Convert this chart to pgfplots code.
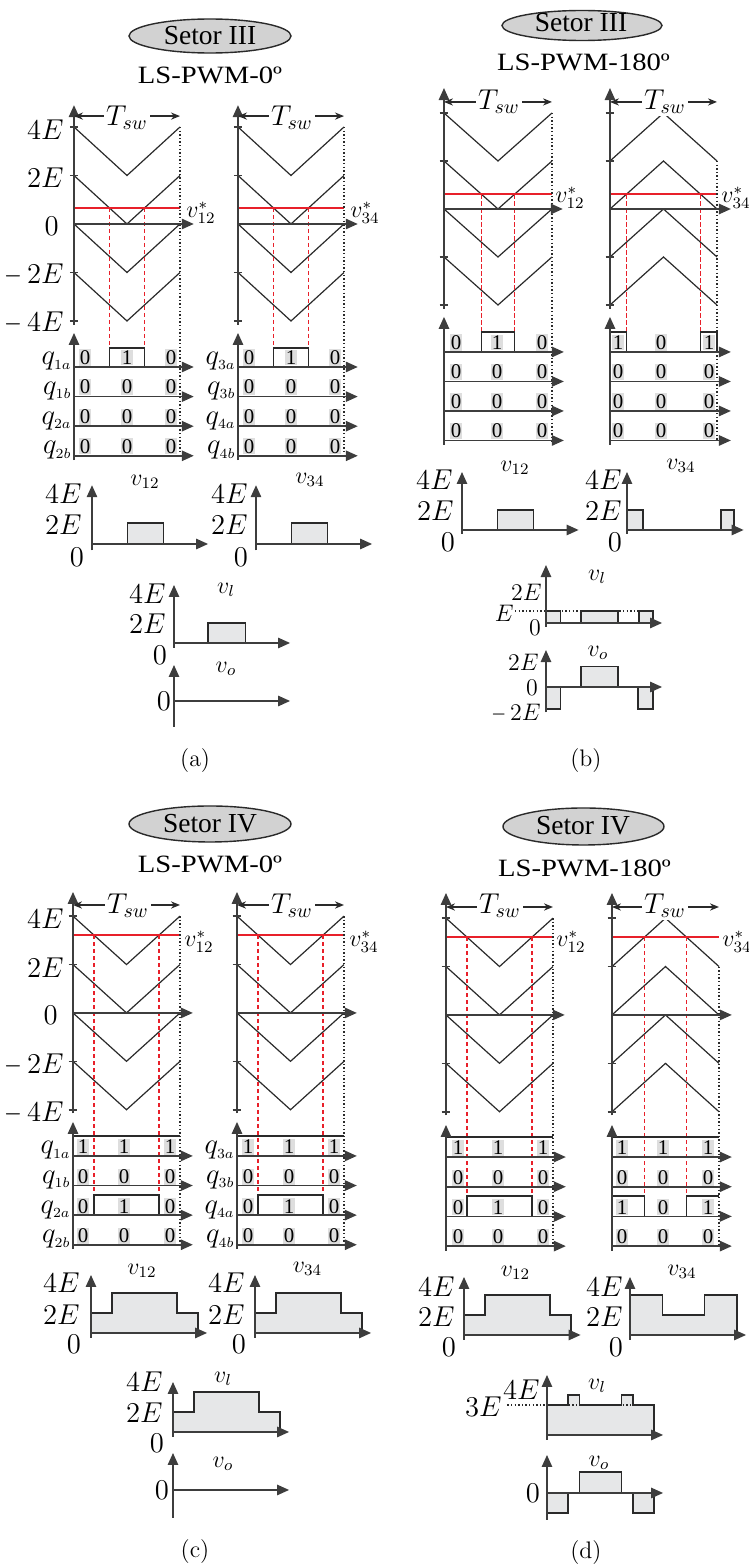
\documentclass[border=0pt]{standalone}
\usepackage[no-math]{fontspec}
\setmainfont{Liberation Serif}
\usepackage{graphicx}
\usepackage{pgfplots}
\pgfplotsset{compat=1.18}
\usetikzlibrary{arrows.meta}
\definecolor{ln}{HTML}{2A2A2A}
\definecolor{ax}{HTML}{3D3D3D}
\definecolor{rd}{HTML}{E8202A}
\definecolor{fl}{HTML}{E6E7E8}
\definecolor{hl}{HTML}{DEDEDE}
\definecolor{el}{HTML}{D2D2D2}
\newcommand\fT{\fontsize{13.5}{15}\selectfont}
\newcommand\fTs{\fontsize{12.5}{14}\selectfont}
\newcommand\fQ{\fontsize{12}{14}\selectfont}
\newcommand\fQQ{\fontsize{14}{15}\selectfont}
\newcommand\fD{\fontsize{10.5}{12}\selectfont}
\newcommand\fS{\fontsize{13.8}{16}\selectfont}
\newcommand\fL{\fontsize{12.5}{14}\selectfont}
\newcommand\fW{\fontsize{14}{16}\selectfont}
\newcommand\mi{\scalebox{0.8}[1]{$-$}\,}
\newcommand\qq[1]{$q_{\scriptscriptstyle #1}$}
\pgfplotsset{wf/.style={hide axis,clip=false,anchor=south west,xmin=0,enlargelimits=false,no markers}}
\tikzset{
 car/.style={draw=ln,line width=0.6bp},
 axl/.style={draw=ax,line width=0.8bp,-{Triangle[length=6bp,width=5.2bp]}},
 axn/.style={draw=ax,line width=0.8bp},
 tsw/.style={draw=ln,line width=0.6bp,{Stealth[length=4.5bp,width=3.6bp]}-{Stealth[length=4.5bp,width=3.6bp]}},
 rdash/.style={draw=rd,line width=0.65bp,dash pattern=on 2.2bp off 1.3bp},
 bdot/.style={draw=ln,line width=0.6bp,dash pattern=on 0.7bp off 1.1bp},
 refl/.style={draw=rd,line width=0.7bp},
 sig/.style={draw=ln,line width=0.75bp},
 stp/.style={draw=ln,line width=0.8bp,fill=fl},
 tk/.style={anchor=east,inner sep=0pt,font=\fT},
 tks/.style={anchor=east,inner sep=0pt,font=\fTs},
 tc/.style={inner sep=0pt,font=\fT},
 tcs/.style={inner sep=0pt,font=\fTs},
 ql/.style={anchor=base east,inner sep=0pt,font=\fQQ},
 vl/.style={inner sep=0pt,font=\fQ},
 vs/.style={anchor=base west,inner sep=0pt,font=\fQ},
 dgs/.style={fill=hl,inner xsep=0.3bp,inner ysep=0.5bp,font=\fD},
 tw/.style={fill=white,inner sep=1bp,font=\fW},
}
% position of an axis corner from reference pixel coordinates (1px = 0.5bp, y downwards)
\newcommand\AT[2]{at={({#1*0.5bp},{-#2*0.5bp})}}
\newcommand\dg[3]{\node[dgs] at (#1,#2) {#3};}
\newcommand\drow[7]{\dg{#1}{#4}{#5}\dg{#2}{#4}{#6}\dg{#3}{#4}{#7}}
\begin{document}
\begin{tikzpicture}
% ================= PANEL (a) =================
\begin{axis}[wf,x=53bp,y=12.125bp,xmax=1.14,ymin=-4.2,ymax=4.95,\AT{74}{325.85}]
 \addplot[car] coordinates {(0,4)(0.5,2)(1,4)};
 \addplot[car] coordinates {(0,2)(0.5,0)(1,2)};
 \addplot[car] coordinates {(0,0)(0.5,-2)(1,0)};
 \addplot[car] coordinates {(0,-2)(0.5,-4)(1,-2)};
 \addplot[refl] coordinates {(0,0.66)(1,0.66)};
 \addplot[rdash] coordinates {(0.335,0.66)(0.335,-5.1)};
 \addplot[rdash] coordinates {(0.665,0.66)(0.665,-5.1)};
 \addplot[bdot] coordinates {(1,4)(1,-9.6)};
 \draw[axl] (0,-4.15) -- (0,4.9);
 \draw[axl] (0,0) -- (1.13,0);
 \draw[axn] (-0.04,4)--(0.04,4) (-0.04,2)--(0.04,2) (-0.04,-2)--(0.04,-2) (-0.04,-4)--(0.04,-4);
 \draw[tsw] (0,4.45) -- (1,4.45);
\end{axis}
\begin{axis}[wf,x=53bp,y=12.125bp,xmax=1.14,ymin=-4.2,ymax=4.95,\AT{238}{325.85}]
 \addplot[car] coordinates {(0,4)(0.5,2)(1,4)};
 \addplot[car] coordinates {(0,2)(0.5,0)(1,2)};
 \addplot[car] coordinates {(0,0)(0.5,-2)(1,0)};
 \addplot[car] coordinates {(0,-2)(0.5,-4)(1,-2)};
 \addplot[refl] coordinates {(0,0.66)(1,0.66)};
 \addplot[rdash] coordinates {(0.335,0.66)(0.335,-5.1)};
 \addplot[rdash] coordinates {(0.665,0.66)(0.665,-5.1)};
 \addplot[bdot] coordinates {(1,4)(1,-9.6)};
 \draw[axl] (0,-4.15) -- (0,4.9);
 \draw[axl] (0,0) -- (1.13,0);
 \draw[axn] (-0.04,4)--(0.04,4) (-0.04,2)--(0.04,2) (-0.04,-2)--(0.04,-2) (-0.04,-4)--(0.04,-4);
 \draw[tsw] (0,4.45) -- (1,4.45);
\end{axis}
\begin{axis}[wf,x=53bp,y=14.8bp,xmax=1.14,ymin=-3.15,ymax=1.15,\AT{74}{460.24}]
 \addplot[sig] coordinates {(0,0)(0.335,0)(0.335,0.64)(0.665,0.64)(0.665,0)(1,0)};
 \addplot[sig] coordinates {(0,-1)(1,-1)};
 \addplot[sig] coordinates {(0,-2)(1,-2)};
 \addplot[sig] coordinates {(0,-3)(1,-3)};
 \draw[axl] (0,-3.15) -- (0,1.15);
 \draw[axl] (0,0) -- (1.13,0);
 \draw[axl] (0,-1) -- (1.13,-1);
 \draw[axl] (0,-2) -- (1.13,-2);
 \draw[axl] (0,-3) -- (1.13,-3);
\end{axis}
\begin{axis}[wf,x=53bp,y=14.8bp,xmax=1.14,ymin=-3.15,ymax=1.15,\AT{238}{460.24}]
 \addplot[sig] coordinates {(0,0)(0.335,0)(0.335,0.64)(0.665,0.64)(0.665,0)(1,0)};
 \addplot[sig] coordinates {(0,-1)(1,-1)};
 \addplot[sig] coordinates {(0,-2)(1,-2)};
 \addplot[sig] coordinates {(0,-3)(1,-3)};
 \draw[axl] (0,-3.15) -- (0,1.15);
 \draw[axl] (0,0) -- (1.13,0);
 \draw[axl] (0,-1) -- (1.13,-1);
 \draw[axl] (0,-2) -- (1.13,-2);
 \draw[axl] (0,-3) -- (1.13,-3);
\end{axis}
\begin{axis}[wf,x=53.5bp,y=5.25bp,xmax=1.1,ymin=-0.6,ymax=5.7,\AT{92}{550.3}]
 \addplot[stp] coordinates {(0,0)(0.33,0)(0.33,2)(0.67,2)(0.67,0)(1,0)} -- cycle;
 \draw[axl] (0,-0.6) -- (0,5.6);
 \draw[axl] (0,0) -- (1.085,0);
\end{axis}
\begin{axis}[wf,x=53.5bp,y=5.25bp,xmax=1.1,ymin=-0.6,ymax=5.7,\AT{256}{550.3}]
 \addplot[stp] coordinates {(0,0)(0.33,0)(0.33,2)(0.67,2)(0.67,0)(1,0)} -- cycle;
 \draw[axl] (0,-0.6) -- (0,5.6);
 \draw[axl] (0,0) -- (1.085,0);
\end{axis}
\begin{axis}[wf,x=53.5bp,y=5bp,xmax=1.1,ymin=-0.5,ymax=5.9,\AT{174}{648}]
 \addplot[stp] coordinates {(0,0)(0.32,0)(0.32,2)(0.67,2)(0.67,0)(1,0)} -- cycle;
 \draw[axl] (0,-0.5) -- (0,5.8);
 \draw[axl] (0,0) -- (1.085,0);
\end{axis}
\begin{axis}[wf,x=53.5bp,y=5bp,xmax=1.1,ymin=-2.6,ymax=3.7,\AT{174}{727}]
 \addplot[sig] coordinates {(0,0)(1,0)};
 \draw[axl] (0,-2.6) -- (0,3.6);
 \draw[axl] (0,0) -- (1.085,0);
\end{axis}
% ================= PANEL (b) =================
\begin{axis}[wf,x=54bp,y=12bp,xmax=1.14,ymin=-4.2,ymax=5.1,\AT{444}{309.8}]
 \addplot[car] coordinates {(0,4)(0.5,2)(1,4)};
 \addplot[car] coordinates {(0,2)(0.5,0)(1,2)};
 \addplot[car] coordinates {(0,0)(0.5,-2)(1,0)};
 \addplot[car] coordinates {(0,-2)(0.5,-4)(1,-2)};
 \addplot[refl] coordinates {(0,0.62)(1,0.62)};
 \addplot[rdash] coordinates {(0.345,0.62)(0.345,-5.125)};
 \addplot[rdash] coordinates {(0.655,0.62)(0.655,-5.125)};
 \addplot[bdot] coordinates {(1,4)(1,-9.67)};
 \draw[axl] (0,-4.15) -- (0,5.04);
 \draw[axl] (0,0) -- (1.1,0);
 \draw[axn] (-0.04,4)--(0.04,4) (-0.04,2)--(0.04,2) (-0.04,-2)--(0.04,-2) (-0.04,-4)--(0.04,-4);
 \draw[tsw] (0,4.46) -- (1,4.46);
\end{axis}
\begin{axis}[wf,x=53.5bp,y=12bp,xmax=1.14,ymin=-4.2,ymax=5.1,\AT{610}{309.8}]
 \addplot[car] coordinates {(0,2)(0.5,4)(1,2)};
 \addplot[car] coordinates {(0,0)(0.5,2)(1,0)};
 \addplot[car] coordinates {(0,-2)(0.5,0)(1,-2)};
 \addplot[car] coordinates {(0,-4)(0.5,-2)(1,-4)};
 \addplot[refl] coordinates {(0,0.62)(1,0.62)};
 \addplot[rdash] coordinates {(0.155,0.62)(0.155,-5.125)};
 \addplot[rdash] coordinates {(0.845,0.62)(0.845,-5.125)};
 \addplot[bdot] coordinates {(1,2)(1,-9.67)};
 \draw[axl] (0,-4.15) -- (0,5.04);
 \draw[axl] (0,0) -- (1.13,0);
 \draw[axn] (-0.04,4)--(0.04,4) (-0.04,2)--(0.04,2) (-0.04,-2)--(0.04,-2) (-0.04,-4)--(0.04,-4);
 \draw[tsw] (0,4.46) -- (1,4.46);
\end{axis}
\begin{axis}[wf,x=54bp,y=14.75bp,xmax=1.14,ymin=-3.15,ymax=1.2,\AT{444}{444.9}]
 \addplot[sig] coordinates {(0,0)(0.345,0)(0.345,0.68)(0.655,0.68)(0.655,0)(1,0)};
 \addplot[sig] coordinates {(0,-1)(1,-1)};
 \addplot[sig] coordinates {(0,-2)(1,-2)};
 \addplot[sig] coordinates {(0,-3)(1,-3)};
 \draw[axl] (0,-3.15) -- (0,1.19);
 \draw[axl] (0,0) -- (1.11,0);
 \draw[axl] (0,-1) -- (1.11,-1);
 \draw[axl] (0,-2) -- (1.11,-2);
 \draw[axl] (0,-3) -- (1.11,-3);
\end{axis}
\begin{axis}[wf,x=53.5bp,y=14.75bp,xmax=1.14,ymin=-3.15,ymax=1.2,\AT{610}{444.9}]
 \addplot[sig] coordinates {(0,0.68)(0.155,0.68)(0.155,0)(0.845,0)(0.845,0.68)(1,0.68)(1,0)};
 \addplot[sig] coordinates {(0,-1)(1,-1)};
 \addplot[sig] coordinates {(0,-2)(1,-2)};
 \addplot[sig] coordinates {(0,-3)(1,-3)};
 \draw[axl] (0,-3.15) -- (0,1.19);
 \draw[axl] (0,0) -- (1.13,0);
 \draw[axl] (0,-1) -- (1.13,-1);
 \draw[axl] (0,-2) -- (1.13,-2);
 \draw[axl] (0,-3) -- (1.13,-3);
\end{axis}
\begin{axis}[wf,x=53.5bp,y=5bp,xmax=1.1,ymin=-0.4,ymax=5.9,\AT{462}{534}]
 \addplot[stp] coordinates {(0,0)(0.33,0)(0.33,2)(0.67,2)(0.67,0)(1,0)} -- cycle;
 \draw[axl] (0,-0.4) -- (0,5.8);
 \draw[axl] (0,0) -- (1.09,0);
\end{axis}
\begin{axis}[wf,x=53.5bp,y=5bp,xmax=1.1,ymin=-0.4,ymax=5.9,\AT{627}{534}]
 \addplot[stp] coordinates {(0,0)(0,2)(0.15,2)(0.15,0)(0.88,0)(0.88,2)(1,2)(1,0)} -- cycle;
 \draw[axl] (0,-0.4) -- (0,5.8);
 \draw[axl] (0,0) -- (1.09,0);
\end{axis}
\begin{axis}[wf,x=53.5bp,y=6bp,xmax=1.1,ymin=-0.3,ymax=4.9,\AT{546}{626.6}]
 \addplot[bdot] coordinates {(-0.29,1)(1,1)};
 \addplot[stp] coordinates {(0,0)(0,1)(0.135,1)(0.135,0)(0.327,0)(0.327,1)(0.673,1)(0.673,0)(0.87,0)(0.87,1)(1,1)(1,0)} -- cycle;
 \draw[axl] (0,-0.3) -- (0,4.83);
 \draw[axl] (0,0) -- (1.085,0);
\end{axis}
\begin{axis}[wf,x=53.5bp,y=5.5bp,xmax=1.1,ymin=-2.3,ymax=3.45,\AT{546}{712.3}]
 \addplot[stp] coordinates {(0,0)(0,-2)(0.135,-2)(0.135,0)(0.327,0)(0.327,1.85)(0.673,1.85)(0.673,0)(0.86,0)(0.86,-2)(1,-2)(1,0)} -- cycle;
 \draw[axl] (0,-2.3) -- (0,3.36);
 \draw[axl] (0,0) -- (1.085,0);
\end{axis}
% ================= PANEL (c) =================
\begin{axis}[wf,x=53.5bp,y=12.1bp,xmax=1.14,ymin=-4.2,ymax=5.1,\AT{73}{1114.6}]
 \addplot[car] coordinates {(0,4)(0.5,2)(1,4)};
 \addplot[car] coordinates {(0,2)(0.5,0)(1,2)};
 \addplot[car] coordinates {(0,0)(0.5,-2)(1,0)};
 \addplot[car] coordinates {(0,-2)(0.5,-4)(1,-2)};
 \addplot[refl] coordinates {(0,3.22)(1,3.22)};
 \addplot[rdash] coordinates {(0.195,3.22)(0.195,-7.52)};
 \addplot[rdash] coordinates {(0.805,3.22)(0.805,-7.52)};
 \addplot[bdot] coordinates {(1,4)(1,-9.6)};
 \draw[axl] (0,-4.15) -- (0,5.0);
 \draw[axl] (0,0) -- (1.12,0);
 \draw[axn] (-0.04,4)--(0.04,4) (-0.04,2)--(0.04,2) (-0.04,-2)--(0.04,-2) (-0.04,-4)--(0.04,-4);
 \draw[tsw] (0,4.46) -- (1,4.46);
\end{axis}
\begin{axis}[wf,x=53.5bp,y=12.1bp,xmax=1.14,ymin=-4.2,ymax=5.1,\AT{237}{1114.6}]
 \addplot[car] coordinates {(0,4)(0.5,2)(1,4)};
 \addplot[car] coordinates {(0,2)(0.5,0)(1,2)};
 \addplot[car] coordinates {(0,0)(0.5,-2)(1,0)};
 \addplot[car] coordinates {(0,-2)(0.5,-4)(1,-2)};
 \addplot[refl] coordinates {(0,3.22)(1,3.22)};
 \addplot[rdash] coordinates {(0.195,3.22)(0.195,-7.52)};
 \addplot[rdash] coordinates {(0.805,3.22)(0.805,-7.52)};
 \addplot[bdot] coordinates {(1,4)(1,-9.6)};
 \draw[axl] (0,-4.15) -- (0,5.0);
 \draw[axl] (0,0) -- (1.12,0);
 \draw[axn] (-0.04,4)--(0.04,4) (-0.04,2)--(0.04,2) (-0.04,-2)--(0.04,-2) (-0.04,-4)--(0.04,-4);
 \draw[tsw] (0,4.46) -- (1,4.46);
\end{axis}
\begin{axis}[wf,x=53.5bp,y=14.8bp,xmax=1.14,ymin=-3.15,ymax=1.15,\AT{73}{1249.2}]
 \addplot[sig] coordinates {(0,0.68)(1,0.68)};
 \addplot[sig] coordinates {(0,-1)(1,-1)};
 \addplot[sig] coordinates {(0,-2)(0.195,-2)(0.195,-1.32)(0.805,-1.32)(0.805,-2)(1,-2)};
 \addplot[sig] coordinates {(0,-3)(1,-3)};
 \draw[axl] (0,-3.15) -- (0,1.15);
 \draw[axl] (0,0) -- (1.12,0);
 \draw[axl] (0,-1) -- (1.12,-1);
 \draw[axl] (0,-2) -- (1.12,-2);
 \draw[axl] (0,-3) -- (1.12,-3);
\end{axis}
\begin{axis}[wf,x=53.5bp,y=14.8bp,xmax=1.14,ymin=-3.15,ymax=1.15,\AT{237}{1249.2}]
 \addplot[sig] coordinates {(0,0.68)(1,0.68)};
 \addplot[sig] coordinates {(0,-1)(1,-1)};
 \addplot[sig] coordinates {(0,-2)(0.195,-2)(0.195,-1.32)(0.805,-1.32)(0.805,-2)(1,-2)};
 \addplot[sig] coordinates {(0,-3)(1,-3)};
 \draw[axl] (0,-3.15) -- (0,1.15);
 \draw[axl] (0,0) -- (1.12,0);
 \draw[axl] (0,-1) -- (1.12,-1);
 \draw[axl] (0,-2) -- (1.12,-2);
 \draw[axl] (0,-3) -- (1.12,-3);
\end{axis}
\begin{axis}[wf,x=53.5bp,y=5bp,xmax=1.1,ymin=-0.5,ymax=5.9,\AT{91}{1338}]
 \addplot[stp] coordinates {(0,0)(0,2)(0.195,2)(0.195,4)(0.805,4)(0.805,2)(1,2)(1,0)} -- cycle;
 \draw[axl] (0,-0.5) -- (0,5.8);
 \draw[axl] (0,0) -- (1.085,0);
\end{axis}
\begin{axis}[wf,x=53.5bp,y=5bp,xmax=1.1,ymin=-0.5,ymax=5.9,\AT{255}{1338}]
 \addplot[stp] coordinates {(0,0)(0,2)(0.195,2)(0.195,4)(0.805,4)(0.805,2)(1,2)(1,0)} -- cycle;
 \draw[axl] (0,-0.5) -- (0,5.8);
 \draw[axl] (0,0) -- (1.085,0);
\end{axis}
\begin{axis}[wf,x=53.5bp,y=5bp,xmax=1.1,ymin=-0.5,ymax=5.1,\AT{173}{1437}]
 \addplot[stp] coordinates {(0,0)(0,2)(0.195,2)(0.195,4)(0.805,4)(0.805,2)(1,2)(1,0)} -- cycle;
 \draw[axl] (0,-0.5) -- (0,5.0);
 \draw[axl] (0,0) -- (1.085,0);
\end{axis}
\begin{axis}[wf,x=53.5bp,y=5bp,xmax=1.1,ymin=-2.8,ymax=3.8,\AT{173}{1518}]
 \addplot[sig] coordinates {(0,0)(1,0)};
 \draw[axl] (0,-2.8) -- (0,3.7);
 \draw[axl] (0,0) -- (1.085,0);
\end{axis}
% ================= PANEL (d) =================
\begin{axis}[wf,x=53.5bp,y=12.1bp,xmax=1.14,ymin=-4.2,ymax=5.1,\AT{446}{1116.6}]
 \addplot[car] coordinates {(0,4)(0.5,2)(1,4)};
 \addplot[car] coordinates {(0,2)(0.5,0)(1,2)};
 \addplot[car] coordinates {(0,0)(0.5,-2)(1,0)};
 \addplot[car] coordinates {(0,-2)(0.5,-4)(1,-2)};
 \addplot[refl] coordinates {(0,3.22)(1,3.22)};
 \addplot[rdash] coordinates {(0.195,3.22)(0.195,-7.48)};
 \addplot[rdash] coordinates {(0.805,3.22)(0.805,-7.48)};
 \addplot[bdot] coordinates {(1,4)(1,-9.55)};
 \draw[axl] (0,-4.15) -- (0,5.04);
 \draw[axl] (0,0) -- (1.11,0);
 \draw[axn] (-0.04,4)--(0.04,4) (-0.04,2)--(0.04,2) (-0.04,-2)--(0.04,-2) (-0.04,-4)--(0.04,-4);
 \draw[tsw] (0,4.46) -- (1,4.46);
\end{axis}
\begin{axis}[wf,x=53.5bp,y=12.1bp,xmax=1.14,ymin=-4.2,ymax=5.1,\AT{612}{1116.6}]
 \addplot[car] coordinates {(0,2)(0.5,4)(1,2)};
 \addplot[car] coordinates {(0,0)(0.5,2)(1,0)};
 \addplot[car] coordinates {(0,-2)(0.5,0)(1,-2)};
 \addplot[car] coordinates {(0,-4)(0.5,-2)(1,-4)};
 \addplot[refl] coordinates {(0,3.22)(1,3.22)};
 \addplot[rdash] coordinates {(0.305,3.22)(0.305,-7.48)};
 \addplot[rdash] coordinates {(0.695,3.22)(0.695,-7.48)};
 \addplot[bdot] coordinates {(1,2)(1,-9.55)};
 \draw[axl] (0,-4.15) -- (0,5.04);
 \draw[axl] (0,0) -- (1.12,0);
 \draw[axn] (-0.04,4)--(0.04,4) (-0.04,2)--(0.04,2) (-0.04,-2)--(0.04,-2) (-0.04,-4)--(0.04,-4);
 \draw[tsw] (0,4.46) -- (1,4.46);
\end{axis}
\begin{axis}[wf,x=53.5bp,y=14.85bp,xmax=1.14,ymin=-3.15,ymax=1.1,\AT{446}{1250.6}]
 \addplot[sig] coordinates {(0,0.68)(1,0.68)};
 \addplot[sig] coordinates {(0,-1)(1,-1)};
 \addplot[sig] coordinates {(0,-2)(0.195,-2)(0.195,-1.32)(0.805,-1.32)(0.805,-2)(1,-2)};
 \addplot[sig] coordinates {(0,-3)(1,-3)};
 \draw[axl] (0,-3.15) -- (0,1.08);
 \draw[axl] (0,0) -- (1.12,0);
 \draw[axl] (0,-1) -- (1.12,-1);
 \draw[axl] (0,-2) -- (1.12,-2);
 \draw[axl] (0,-3) -- (1.12,-3);
\end{axis}
\begin{axis}[wf,x=53.5bp,y=14.85bp,xmax=1.14,ymin=-3.15,ymax=1.1,\AT{612}{1250.6}]
 \addplot[sig] coordinates {(0,0.68)(1,0.68)};
 \addplot[sig] coordinates {(0,-1)(1,-1)};
 \addplot[sig] coordinates {(0,-1.32)(0.305,-1.32)(0.305,-2)(0.695,-2)(0.695,-1.32)(1,-1.32)};
 \addplot[sig] coordinates {(0,-3)(1,-3)};
 \draw[axl] (0,-3.15) -- (0,1.08);
 \draw[axl] (0,0) -- (1.12,0);
 \draw[axl] (0,-1) -- (1.12,-1);
 \draw[axl] (0,-2) -- (1.12,-2);
 \draw[axl] (0,-3) -- (1.12,-3);
\end{axis}
\begin{axis}[wf,x=53.5bp,y=5bp,xmax=1.1,ymin=-0.5,ymax=5.9,\AT{464}{1340}]
 \addplot[stp] coordinates {(0,0)(0,2)(0.195,2)(0.195,4)(0.805,4)(0.805,2)(1,2)(1,0)} -- cycle;
 \draw[axl] (0,-0.5) -- (0,5.8);
 \draw[axl] (0,0) -- (1.09,0);
\end{axis}
\begin{axis}[wf,x=53.5bp,y=5bp,xmax=1.1,ymin=-0.5,ymax=5.9,\AT{630}{1340}]
 \addplot[stp] coordinates {(0,0)(0,4)(0.305,4)(0.305,2)(0.695,2)(0.695,4)(1,4)(1,0)} -- cycle;
 \draw[axl] (0,-0.5) -- (0,5.8);
 \draw[axl] (0,0) -- (1.085,0);
\end{axis}
\begin{axis}[wf,x=53.5bp,y=5bp,xmax=1.1,ymin=-0.5,ymax=6.1,\AT{547}{1440}]
 \addplot[stp] coordinates {(0,0)(0,3)(0.195,3)(0.195,4)(0.305,4)(0.305,3)(0.695,3)(0.695,4)(0.805,4)(0.805,3)(1,3)(1,0)} -- cycle;
 \addplot[bdot] coordinates {(-0.37,3)(0.8,3)};
 \draw[axl] (0,-0.5) -- (0,6.0);
 \draw[axl] (0,0) -- (1.085,0);
\end{axis}
\begin{axis}[wf,x=53.5bp,y=5bp,xmax=1.1,ymin=-2.7,ymax=3.9,\AT{547}{1520}]
 \addplot[stp] coordinates {(0,0)(0,-2)(0.195,-2)(0.195,0)(0.305,0)(0.305,2.1)(0.695,2.1)(0.695,0)(0.805,0)(0.805,-2)(1,-2)(1,0)} -- cycle;
 \draw[axl] (0,-2.7) -- (0,3.8);
 \draw[axl] (0,0) -- (1.085,0);
\end{axis}
% ================= TEXT (pixel coordinates of the reference) =================
\begin{scope}[x=0.5bp,y=-0.5bp]
% (a)
\draw[draw=ln,fill=el,line width=0.7bp] (210,36) ellipse [x radius=40.5bp,y radius=8.5bp];
\node[anchor=base,inner sep=0pt,font=\fS] at (210,44) {Setor III};
\node[anchor=base,inner sep=0pt,font=\fL] at (210,84) {\scalebox{1.15}[1]{LS-PWM-0º}};
\node[tk] at (64,130) {$4E$};
\node[tk] at (64,178) {$2E$};
\node[tk] at (59,226) {$0$};
\node[tk] at (64,275) {$\mi 2E$};
\node[tk] at (64,323) {$\mi 4E$};
\node[tw] at (127,118) {$T_{sw}$};
\node[tw] at (292,118) {$T_{sw}$};
\node[vs] at (186,218) {$v^{*}_{12}$};
\node[vs] at (350,218) {$v^{*}_{34}$};
\node[ql] at (72,365) {\qq{1a}};
\node[ql] at (72,394.6) {\qq{1b}};
\node[ql] at (72,424.2) {\qq{2a}};
\node[ql] at (72,453.8) {\qq{2b}};
\node[ql] at (236,365) {\qq{3a}};
\node[ql] at (236,394.6) {\qq{3b}};
\node[ql] at (236,424.2) {\qq{4a}};
\node[ql] at (236,453.8) {\qq{4b}};
\drow{85}{127}{171}{357.5}{0}{1}{0}
\drow{85}{127}{171}{387.1}{0}{0}{0}
\drow{85}{127}{171}{416.7}{0}{0}{0}
\drow{85}{127}{171}{446.3}{0}{0}{0}
\drow{249}{291}{335}{357.5}{0}{1}{0}
\drow{249}{291}{335}{387.1}{0}{0}{0}
\drow{249}{291}{335}{416.7}{0}{0}{0}
\drow{249}{291}{335}{446.3}{0}{0}{0}
\node[tk] at (82,494) {$4E$};
\node[tk] at (82,525) {$2E$};
\node[tc] at (77,557) {$0$};
\node[vl] at (145,482) {$v_{12}$};
\node[tk] at (248,494) {$4E$};
\node[tk] at (248,525) {$2E$};
\node[tc] at (241,557) {$0$};
\node[vl] at (310,480) {$v_{34}$};
\node[tk] at (166,594) {$4E$};
\node[tk] at (166,624) {$2E$};
\node[tc] at (160,655) {$0$};
\node[vl] at (226,590) {$v_{l}$};
\node[tc] at (164,701) {$0$};
\node[vl] at (226,669) {$v_{o}$};
\node[inner sep=0pt,font=\fQ] at (195,761) {$(\mathrm{a})$};
% (b)
\draw[draw=ln,fill=el,line width=0.7bp] (582,25.5) ellipse [x radius=40bp,y radius=7.5bp];
\node[anchor=base,inner sep=0pt,font=\fS] at (581,31) {Setor III};
\node[anchor=base,inner sep=0pt,font=\fL] at (583.5,70) {\scalebox{1.15}[1]{LS-PWM-180º}};
\node[tw] at (499,102) {$T_{sw}$};
\node[tw] at (665,102) {$T_{sw}$};
\node[vs] at (555,203) {$v^{*}_{12}$};
\node[vs] at (721,203) {$v^{*}_{34}$};
\drow{456}{497}{542}{342.5}{0}{1}{0}
\drow{456}{497}{542}{372}{0}{0}{0}
\drow{456}{497}{542}{401.5}{0}{0}{0}
\drow{456}{497}{542}{431}{0}{0}{0}
\drow{618}{661}{709}{342.5}{1}{0}{1}
\drow{618}{661}{709}{372}{0}{0}{0}
\drow{618}{661}{709}{401.5}{0}{0}{0}
\drow{618}{661}{709}{431}{0}{0}{0}
\node[tk] at (453,480) {$4E$};
\node[tk] at (454,511) {$2E$};
\node[tc] at (448,542) {$0$};
\node[vl] at (515,468) {$v_{12}$};
\node[tk] at (622,480) {$4E$};
\node[tk] at (622,511) {$2E$};
\node[tc] at (615,542) {$0$};
\node[vl] at (681,466) {$v_{34}$};
\node[tks] at (542,592) {$2E$};
\node[tks] at (514,613) {$E$};
\node[tcs] at (535,628) {$0$};
\node[vl] at (597,577) {$v_{l}$};
\node[tks] at (539,662) {$2E$};
\node[tcs] at (532,688) {$0$};
\node[tks] at (541,713) {$\mi 2E$};
\node[vl] at (598,653) {$v_{o}$};
\node[inner sep=0pt,font=\fQ] at (586,761) {$(\mathrm{b})$};
% (c)
\draw[draw=ln,fill=el,line width=0.7bp] (210,824) ellipse [x radius=40.5bp,y radius=9bp];
\node[anchor=base,inner sep=0pt,font=\fS] at (210,833) {Setor IV};
\node[anchor=base,inner sep=0pt,font=\fL] at (210,873) {\scalebox{1.15}[1]{LS-PWM-0º}};
\node[tk] at (64,919) {$4E$};
\node[tk] at (64,968) {$2E$};
\node[tk] at (58,1015) {$0$};
\node[tk] at (64,1065) {$\mi 2E$};
\node[tk] at (64,1113) {$\mi 4E$};
\node[tw] at (128,906) {$T_{sw}$};
\node[tw] at (292,906) {$T_{sw}$};
\node[vs] at (184,947) {$v^{*}_{12}$};
\node[vs] at (349,947) {$v^{*}_{34}$};
\node[ql] at (71,1154) {\qq{1a}};
\node[ql] at (71,1183.6) {\qq{1b}};
\node[ql] at (71,1213.2) {\qq{2a}};
\node[ql] at (71,1242.8) {\qq{2b}};
\node[ql] at (235,1154) {\qq{3a}};
\node[ql] at (235,1183.6) {\qq{3b}};
\node[ql] at (235,1213.2) {\qq{4a}};
\node[ql] at (235,1242.8) {\qq{4b}};
\drow{83}{124}{170}{1147}{1}{1}{1}
\drow{83}{124}{170}{1176.6}{0}{0}{0}
\drow{83}{124}{170}{1206.2}{0}{1}{0}
\drow{83}{124}{170}{1235.8}{0}{0}{0}
\drow{248}{289}{334}{1147}{1}{1}{1}
\drow{248}{289}{334}{1176.6}{0}{0}{0}
\drow{248}{289}{334}{1206.2}{0}{1}{0}
\drow{248}{289}{334}{1235.8}{0}{0}{0}
\node[tk] at (80,1283) {$4E$};
\node[tk] at (80,1315) {$2E$};
\node[tc] at (74,1344) {$0$};
\node[vl] at (142,1271) {$v_{12}$};
\node[tk] at (245,1283) {$4E$};
\node[tk] at (245,1315) {$2E$};
\node[tc] at (239,1344) {$0$};
\node[vl] at (307.5,1269) {$v_{34}$};
\node[tk] at (163,1382) {$4E$};
\node[tk] at (163,1413) {$2E$};
\node[tc] at (157,1443) {$0$};
\node[vl] at (223,1379) {$v_{l}$};
\node[tc] at (162,1490) {$0$};
\node[vl] at (223,1464) {$v_{o}$};
\node[inner sep=0pt,font=\fQ] at (195,1552) {$(\mathrm{c})$};
% (d)
\draw[draw=ln,fill=el,line width=0.7bp] (583.5,826.5) ellipse [x radius=40.25bp,y radius=9.25bp];
\node[anchor=base,inner sep=0pt,font=\fS] at (583,835) {Setor IV};
\node[anchor=base,inner sep=0pt,font=\fL] at (584.5,877) {\scalebox{1.15}[1]{LS-PWM-180º}};
\node[tw] at (500,906) {$T_{sw}$};
\node[tw] at (665,906) {$T_{sw}$};
\node[vs] at (556,947) {$v^{*}_{12}$};
\node[vs] at (722,947) {$v^{*}_{34}$};
\drow{458}{498}{543}{1148}{1}{1}{1}
\drow{458}{498}{543}{1177.7}{0}{0}{0}
\drow{458}{498}{543}{1207.4}{0}{1}{0}
\drow{458}{498}{543}{1237}{0}{0}{0}
\drow{622}{663}{708}{1148}{1}{1}{1}
\drow{622}{663}{708}{1177.7}{0}{0}{0}
\drow{622}{663}{708}{1207.4}{1}{0}{1}
\drow{622}{663}{708}{1237}{0}{0}{0}
\node[tk] at (455,1287) {$4E$};
\node[tk] at (455,1317) {$2E$};
\node[tc] at (449,1347) {$0$};
\node[vl] at (515.5,1273) {$v_{12}$};
\node[tk] at (623,1287) {$4E$};
\node[tk] at (623,1317) {$2E$};
\node[tc] at (616,1347) {$0$};
\node[vl] at (682,1272) {$v_{34}$};
\node[tk] at (540,1390) {$4E$};
\node[tk] at (502,1407) {$3E$};
\node[vl] at (597,1386) {$v_{l}$};
\node[tc] at (533,1493) {$0$};
\node[vl] at (599,1463) {$v_{o}$};
\node[inner sep=0pt,font=\fQ] at (586,1553) {$(\mathrm{d})$};
\end{scope}
\pgfresetboundingbox
\path[use as bounding box] (0,0) rectangle (374.5bp,-784bp);
\end{tikzpicture}
\end{document}
